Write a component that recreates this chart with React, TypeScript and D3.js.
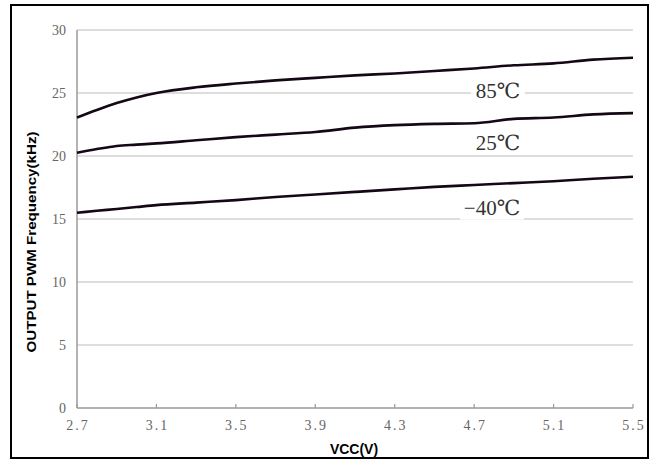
import React from "react";
import * as d3 from "d3";

const vcc = [2.7, 2.8, 2.9, 3.0, 3.1, 3.3, 3.5, 3.7, 3.9, 4.1, 4.3, 4.5, 4.7, 4.9, 5.1, 5.3, 5.5];
const t85 = [23.05, 23.65, 24.2, 24.65, 25.0, 25.45, 25.75, 26.0, 26.2, 26.4, 26.55, 26.75, 26.95, 27.2, 27.35, 27.65, 27.8];
const t25 = [20.25, 20.55, 20.8, 20.9, 21.0, 21.25, 21.5, 21.7, 21.9, 22.25, 22.45, 22.55, 22.6, 22.95, 23.05, 23.3, 23.4];
const tm40 = [15.5, 15.65, 15.8, 15.95, 16.1, 16.3, 16.5, 16.75, 16.95, 17.15, 17.35, 17.55, 17.7, 17.85, 18.0, 18.2, 18.35];

const seriesNames = ["85℃", "25℃", "−40℃"];
const seriesValues = [t85, t25, tm40];
const labelX = [4.82, 4.82, 4.79];
const labelY = [25.15, 21.05, 15.9];

const xTicks = [2.7, 3.1, 3.5, 3.9, 4.3, 4.7, 5.1, 5.5];
const yTicks = [0, 5, 10, 15, 20, 25, 30];
const xTitle = "VCC(V)";
const yTitle = "OUTPUT PWM Frequency(kHz)";

export default function App() {
  const W = 654, H = 461;
  const x = d3.scaleLinear().domain([2.7, 5.5]).range([77, 633]);
  const y = d3.scaleLinear().domain([0, 30]).range([408, 30]);
  const line = d3
    .line<number>()
    .x((_, i) => x(vcc[i]))
    .y((d) => y(d))
    .curve(d3.curveMonotoneX);
  const labelFont = "'Liberation Serif', 'DejaVu Serif', serif";
  return (
    <svg width={W} height={H} style={{ position: "absolute", left: 0, top: 0 }}>
      <rect x={0} y={0} width={W} height={H} fill="#fff" />
      <rect x={11} y={5} width={637} height={453} fill="none" stroke="#000" strokeWidth={2} />
      {yTicks.filter((t) => t > 0).map((t) => (
        <line key={t} x1={x(2.7)} x2={x(5.5)} y1={y(t)} y2={y(t)} stroke="#d2d2d2" strokeWidth={1.5} />
      ))}
      <line x1={x(2.7)} x2={x(2.7)} y1={y(30)} y2={y(0)} stroke="#9a9a9a" strokeWidth={1.5} />
      <line x1={x(2.7)} x2={x(5.5)} y1={y(0)} y2={y(0)} stroke="#9a9a9a" strokeWidth={1.5} />
      {xTicks.map((t) => (
        <line key={t} x1={x(t)} x2={x(t)} y1={y(0)} y2={y(0) - 4} stroke="#9a9a9a" strokeWidth={1.2} />
      ))}
      {yTicks.map((t) => (
        <text key={t} x={66} y={y(t) + 5} textAnchor="end" fontFamily={labelFont} fontSize={14} fill="#666">
          {t}
        </text>
      ))}
      {xTicks.map((t) => (
        <text key={t} x={x(t) + 1} y={y(0) + 22} textAnchor="middle" fontFamily={labelFont} fontSize={14} fill="#666" letterSpacing={2}>
          {t.toFixed(1)}
        </text>
      ))}
      {seriesValues.map((s, i) => (
        <path key={i} d={line(s) || ""} fill="none" stroke="#140814" strokeWidth={2.6} strokeLinejoin="round" />
      ))}
      {seriesNames.map((n, i) => {
        const cx = x(labelX[i]);
        const cy = y(labelY[i]);
        const w = i === 2 ? 64 : 54;
        return (
          <g key={n}>
            <rect x={cx - w / 2} y={cy - 12} width={w} height={24} fill="#fff" />
            <text x={cx} y={cy + 7} textAnchor="middle" fontFamily={labelFont} fontSize={21} fill="#333">
              {n}
            </text>
          </g>
        );
      })}
      <text x={354} y={454} textAnchor="middle" fontFamily="'Liberation Sans', Arial, sans-serif" fontWeight="bold" fontSize={14} fill="#000">
        {xTitle}
      </text>
      <text
        transform={`translate(36, 242) rotate(-90)`}
        textAnchor="middle"
        fontFamily="'Liberation Sans', Arial, sans-serif"
        fontWeight="bold"
        fontSize={13}
        fill="#000"
        textLength={221}
        lengthAdjust="spacingAndGlyphs"
      >
        {yTitle}
      </text>
    </svg>
  );
}
